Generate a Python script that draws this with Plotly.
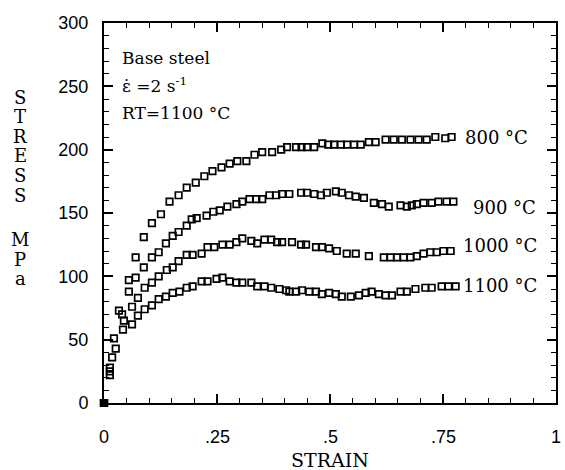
import plotly.graph_objects as go

# ---------------- data ----------------
x800 = [0, 0.013, 0.022, 0.033, 0.055, 0.070, 0.088, 0.106, 0.126, 0.145,
        0.165, 0.183, 0.203, 0.222, 0.240, 0.260, 0.278, 0.295, 0.315, 0.333,
        0.350, 0.372, 0.392, 0.405, 0.425, 0.437, 0.449, 0.465, 0.483, 0.496,
        0.509, 0.524, 0.538, 0.553, 0.568, 0.586, 0.601, 0.623, 0.641, 0.659,
        0.678, 0.696, 0.714, 0.733, 0.755, 0.769]
y800 = [0, 28, 51, 73, 97, 115, 131, 142, 149, 159,
        164, 170, 174, 179, 183, 186, 189, 191, 191, 196,
        198, 198, 200, 202, 202, 202, 202, 202, 205, 204,
        204, 204, 204, 204, 204, 206, 206, 208, 208, 208,
        208, 208, 208, 210, 209, 210]

x900 = [0, 0.013, 0.040, 0.055, 0.070, 0.088, 0.106, 0.121, 0.137, 0.152,
        0.165, 0.183, 0.194, 0.205, 0.227, 0.242, 0.256, 0.273, 0.293, 0.306,
        0.322, 0.337, 0.350, 0.366, 0.381, 0.394, 0.410, 0.436, 0.449, 0.465,
        0.480, 0.493, 0.513, 0.526, 0.542, 0.557, 0.575, 0.597, 0.615, 0.630,
        0.656, 0.670, 0.681, 0.692, 0.707, 0.725, 0.740, 0.758, 0.773]
y900 = [0, 25, 70, 88, 99, 107, 115, 119, 126, 132,
        135, 140, 145, 146, 148, 151, 152, 155, 157, 159,
        161, 161, 161, 164, 164, 165, 165, 166, 166, 165,
        164, 166, 167, 166, 164, 163, 162, 158, 157, 155,
        156, 155, 156, 157, 158, 158, 159, 159, 159]

x1000 = [0, 0.013, 0.018, 0.044, 0.062, 0.075, 0.090, 0.106, 0.121, 0.139,
         0.152, 0.165, 0.183, 0.196, 0.216, 0.229, 0.244, 0.262, 0.278, 0.293,
         0.306, 0.326, 0.339, 0.355, 0.370, 0.383, 0.394, 0.416, 0.436, 0.447,
         0.469, 0.482, 0.498, 0.515, 0.537, 0.557, 0.586, 0.619, 0.634, 0.648,
         0.663, 0.678, 0.692, 0.707, 0.722, 0.736, 0.751, 0.767]
y1000 = [0, 22, 36, 65, 76, 83, 91, 95, 100, 105,
         107, 112, 117, 117, 118, 123, 123, 125, 125, 127,
         130, 128, 126, 129, 129, 127, 127, 127, 125, 125,
         123, 123, 122, 120, 118, 118, 116, 115, 115, 115,
         115, 115, 116, 118, 119, 119, 120, 120]

x1100 = [0, 0.026, 0.042, 0.062, 0.075, 0.090, 0.106, 0.121, 0.137, 0.152,
         0.167, 0.183, 0.196, 0.216, 0.229, 0.249, 0.262, 0.278, 0.293, 0.306,
         0.326, 0.339, 0.355, 0.370, 0.388, 0.403, 0.410, 0.425, 0.438, 0.454,
         0.469, 0.482, 0.498, 0.513, 0.526, 0.546, 0.564, 0.579, 0.592, 0.608,
         0.623, 0.637, 0.656, 0.670, 0.689, 0.711, 0.725, 0.747, 0.762, 0.778]
y1100 = [0, 43, 58, 62, 69, 74, 77, 82, 84, 87,
         88, 91, 92, 96, 96, 98, 99, 96, 95, 95,
         95, 92, 92, 91, 90, 89, 88, 88, 89, 88,
         88, 86, 87, 86, 84, 84, 85, 87, 88, 86,
         85, 85, 88, 88, 90, 91, 91, 92, 92, 92]

series_names = ["800 °C", "900 °C", "1000 °C", "1100 °C"]
series_x = [x800, x900, x1000, x1100]
series_y = [y800, y900, y1000, y1100]
label_x = [0.795, 0.813, 0.789, 0.789]
label_y = [210, 154, 124, 93]

x_tickvals = [0, 0.25, 0.5, 0.75, 1]
x_ticktext = ["0", ".25", ".5", ".75", "1"]

info_lines = ["Base steel", "ε̇ =2 s<sup>-1</sup>", "RT=1100 °C"]
info_y = [272, 251, 229]

ylabel_letters = ["S", "T", "R", "E", "S", "S", "M", "P", "a"]

# ---------------- figure ----------------
SERIF = "DejaVu Serif"
SANS = "Liberation Sans"

W, H = 565, 470
L, R, T, B = 104, 7, 23, 67
pw, ph = W - L - R, H - T - B

fig = go.Figure()
for name, xs, ys in zip(series_names, series_x, series_y):
    symbols = ["square"] + ["square-open"] * (len(xs) - 1)
    fig.add_trace(go.Scatter(
        x=xs, y=ys, mode="markers", name=name, cliponaxis=False,
        marker=dict(symbol=symbols, size=6.5, color="black",
                    line=dict(width=1.7, color="black")),
        showlegend=False))

annotations = []
for name, lx, ly in zip(series_names, label_x, label_y):
    annotations.append(dict(x=lx, y=ly, xref="x", yref="y", text=name,
                            showarrow=False, xanchor="left", yanchor="middle",
                            font=dict(family=SERIF, size=18, color="black")))
for t, yy in zip(info_lines, info_y):
    annotations.append(dict(x=0.035, y=yy, xref="x", yref="y", text=t,
                            showarrow=False, xanchor="left", yanchor="middle",
                            font=dict(family=SERIF, size=17, color="black")))

# x tick labels placed below the axis, at the tick values
for v, t in zip(x_tickvals, x_ticktext):
    annotations.append(dict(x=v, y=(H - 437 - B) / ph, xref="x", yref="paper",
                            text=t, showarrow=False, xanchor="center",
                            yanchor="middle",
                            font=dict(family=SANS, size=18, color="black")))

y0 = 97
for i, ch in enumerate(ylabel_letters):
    ypix = y0 + i * 19.6 + (25 if i >= 6 else 0)
    annotations.append(dict(x=(20 - L) / pw, y=(H - ypix - B) / ph,
                            xref="paper", yref="paper",
                            text=ch, showarrow=False, xanchor="center",
                            yanchor="middle",
                            font=dict(family=SERIF, size=18, color="black")))

annotations.append(dict(x=0.5, y=(H - 460 - B) / ph, xref="x", yref="paper",
                        text="STRAIN", showarrow=False, xanchor="center",
                        yanchor="middle",
                        font=dict(family=SERIF, size=19, color="black")))

fig.update_layout(
    width=W, height=H,
    margin=dict(l=L, r=R, t=T, b=B),
    paper_bgcolor="white", plot_bgcolor="white",
    annotations=annotations,
    xaxis=dict(range=[0, 1], tickmode="linear", tick0=0, dtick=0.25,
               showticklabels=False,
               ticks="inside", ticklen=9, tickwidth=1.5,
               tickcolor="black", showline=True, linewidth=2, linecolor="black",
               mirror="ticks",
               showgrid=False, zeroline=False,
               minor=dict(dtick=0.05, ticks="inside", ticklen=5, tickwidth=1.3,
                          tickcolor="black", showgrid=False)),
    yaxis=dict(range=[0, 300], tickmode="linear", tick0=0, dtick=50,
               ticks="inside", ticklen=9, tickwidth=1.5, tickcolor="black",
               showline=True, linewidth=2, linecolor="black",
               mirror="ticks", ticksuffix="\u00a0\u00a0",
               tickfont=dict(family=SANS, size=18, color="black"),
               showgrid=False, zeroline=False,
               minor=dict(dtick=10, ticks="inside", ticklen=5, tickwidth=1.3,
                          tickcolor="black", showgrid=False)),
)

fig.write_html("out.html",
               config={"displayModeBar": False},
               post_script="document.body.style.margin='0';"
                           "document.body.style.overflow='hidden';")
